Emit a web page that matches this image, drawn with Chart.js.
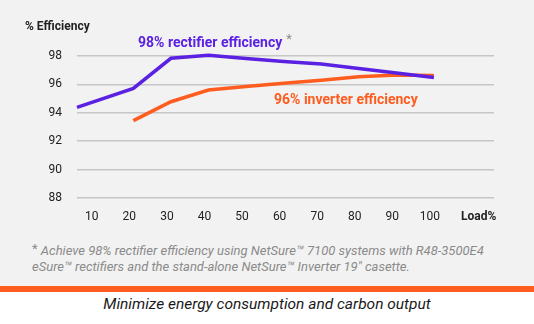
<!DOCTYPE html>
<html>
<head>
<meta charset="utf-8">
<script src="https://cdn.jsdelivr.net/npm/chart.js@4"></script>
<style>
  html, body { margin: 0; padding: 0; background: #fff; }
  #page { position: relative; width: 534px; height: 324px; overflow: hidden; font-family: Roboto, sans-serif; }
  #top { position: absolute; left: 0; top: 0; width: 534px; height: 286px; background: #f2f2f2; }
  #wrap { position: absolute; left: 0; top: 0; width: 534px; height: 240px; }
  #note { position: absolute; left: 32px; top: 243px; width: 500px; font-size: 13px; line-height: 15.5px; font-style: italic; color: #8a8a8a; }
  #note sup { font-style: normal; font-size: 13px; vertical-align: 0; position: relative; top: -2px; }
  #band { position: absolute; left: 0; top: 286px; width: 534px; height: 6px; background: #ff5c1f; }
  #caption { position: absolute; left: 0; top: 295px; width: 534px; text-align: center; font-size: 15.5px; font-style: italic; color: #1a1a1a; }
</style>
</head>
<body>
<div id="page">
  <div id="top"></div>
  <div id="wrap"><canvas id="effChart"></canvas></div>
  <div id="note"><sup>*</sup> Achieve 98% rectifier efficiency using NetSure™ 7100 systems with R48-3500E4<br>eSure™ rectifiers and the stand-alone NetSure™ Inverter 19" casette.</div>
  <div id="band"></div>
  <div id="caption">Minimize energy consumption and carbon output</div>
</div>
<script>
// data ------------------------
const rectLoad = [5, 20, 30, 40, 50, 60, 70, 80, 90, 100];
const rectEff  = [94.38, 95.72, 97.84, 98.05, 97.82, 97.61, 97.44, 97.12, 96.8, 96.48];
const invLoad  = [20, 30, 40, 50, 60, 70, 80, 90, 100];
const invEff   = [93.45, 94.78, 95.6, 95.85, 96.08, 96.3, 96.54, 96.66, 96.63];
const xTicks   = [10, 20, 30, 40, 50, 60, 70, 80, 90, 100];
const yTicks   = [88, 90, 92, 94, 96, 98];
const LOAD_POS = 113; // where the "Load%" label sits

const PURPLE = '#5b21e3';
const ORANGE = '#ff5c1f';

const labels = {
  id: 'labels',
  afterDraw(chart) {
    const c = chart.ctx;
    c.save();
    c.textBaseline = 'middle';
    c.textAlign = 'left';
    c.fillStyle = '#222';
    c.font = 'bold 12px Roboto';
    c.fillText('% Efficiency', 25, 27);
    c.fillStyle = PURPLE;
    c.font = 'bold 14px Roboto';
    c.fillText('98% rectifier efficiency', 138, 43);
    const w = c.measureText('98% rectifier efficiency').width;
    c.fillStyle = '#8a8a8a';
    c.font = '13px Roboto';
    c.fillText('*', 138 + w + 4, 40);
    c.fillStyle = ORANGE;
    c.font = 'bold 14px Roboto';
    c.fillText('96% inverter efficiency', 274, 100);
    c.restore();
  }
};

document.addEventListener('DOMContentLoaded', () => {
  const ctx = document.getElementById('effChart');
  new Chart(ctx, {
    type: 'line',
    data: {
      datasets: [
        {
          label: 'rectifier',
          data: rectLoad.map((x, i) => ({ x: x, y: rectEff[i] })),
          borderColor: PURPLE,
          borderWidth: 3.5,
          pointRadius: 0,
          tension: 0,
          clip: false
        },
        {
          label: 'inverter',
          data: invLoad.map((x, i) => ({ x: x, y: invEff[i] })),
          borderColor: ORANGE,
          borderWidth: 3.5,
          pointRadius: 0,
          tension: 0,
          clip: false
        }
      ]
    },
    options: {
      responsive: true,
      maintainAspectRatio: false,
      animation: false,
      layout: { padding: { top: 56, right: 40, bottom: 12, left: 0 } },
      plugins: { legend: { display: false }, tooltip: { enabled: false } },
      scales: {
        x: {
          type: 'linear',
          min: 5,
          max: 116,
          afterBuildTicks: s => { s.ticks = xTicks.concat([LOAD_POS]).map(v => ({ value: v })); },
          afterFit: s => { s.height = 30; },
          grid: { display: false, drawTicks: false },
          border: { display: false },
          ticks: {
            padding: 12,
            labelOffset: -4,
            maxRotation: 0,
            autoSkip: false,
            color: '#222',
            font: c => (c.tick && c.tick.value === LOAD_POS) ? { family: 'Roboto', size: 12, weight: 'bold' } : { family: 'Roboto', size: 12 },
            callback: v => v === LOAD_POS ? 'Load%' : v
          }
        },
        y: {
          min: 88,
          max: 98,
          afterBuildTicks: s => { s.ticks = yTicks.map(v => ({ value: v })); },
          afterFit: s => { s.width = 77; },
          grid: { color: '#c6c6c6', lineWidth: 1.5, drawTicks: false },
          border: { display: false },
          ticks: { padding: 15, color: '#222', font: { family: 'Roboto', size: 12 } }
        }
      }
    },
    plugins: [labels]
  });
});
</script>
</body>
</html>
